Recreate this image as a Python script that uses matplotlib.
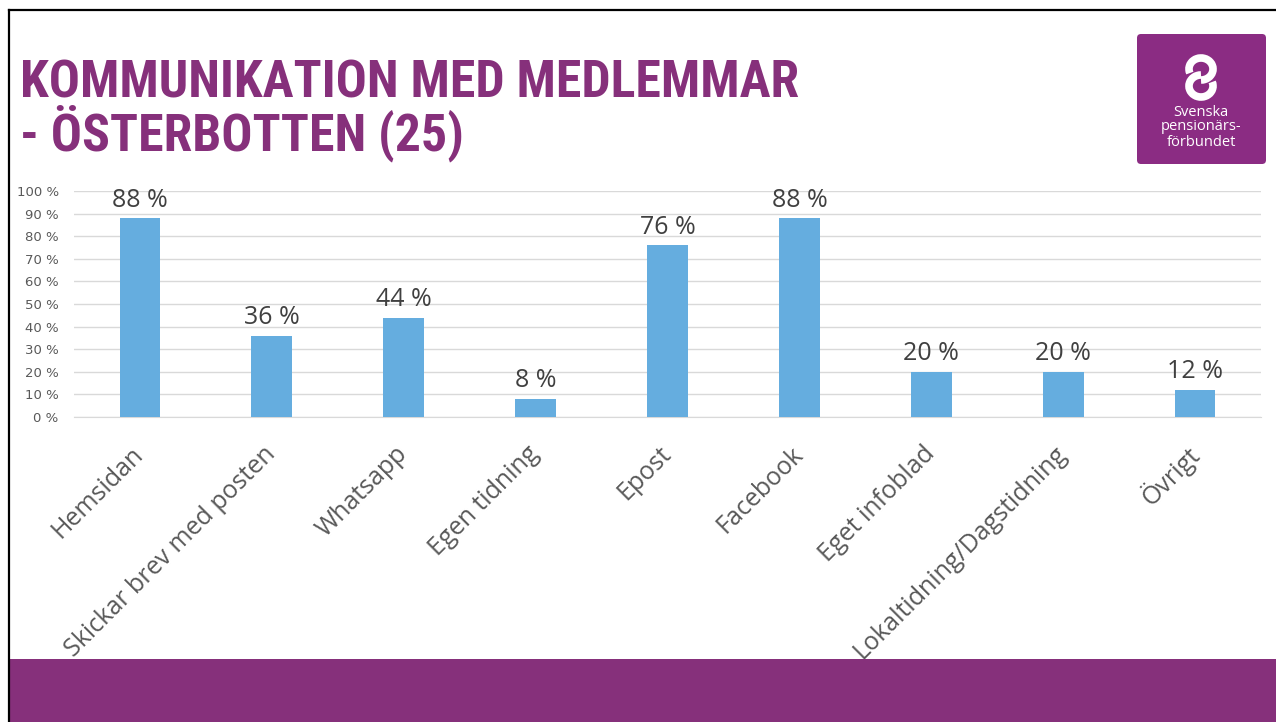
import matplotlib
matplotlib.use("Agg")
import matplotlib.pyplot as plt
from matplotlib.patches import FancyBboxPatch, Rectangle, Arc
from matplotlib.lines import Line2D
from matplotlib import font_manager
from matplotlib.font_manager import FontProperties

categories = ["Hemsidan", "Skickar brev med posten", "Whatsapp", "Egen tidning",
              "Epost", "Facebook", "Eget infoblad", "Lokaltidning/Dagstidning", "Övrigt"]
values = [88, 36, 44, 8, 76, 88, 20, 20, 12]
yticks = [0, 10, 20, 30, 40, 50, 60, 70, 80, 90, 100]
ytick_labels = [f"{v} %" for v in yticks]
title_lines = ["KOMMUNIKATION MED MEDLEMMAR", "- ÖSTERBOTTEN (25)"]

PURPLE = "#86307B"
BAR = "#65ADDF"
GRAY = "#595959"
body_font = "Open Sans"


def is_bold(w):
    if isinstance(w, str):
        return w.lower() in ("bold", "semibold", "demibold", "heavy", "black", "extra bold")
    return w >= 600


def pick_title_font():
    cands = []
    for f in font_manager.fontManager.ttflist:
        nm = f.name.lower()
        st = str(f.stretch).lower()
        fname = f.fname.lower()
        narrow = ("narrow" in nm or "condensed" in nm or "condensed" in st
                  or "narrow" in fname or "condensed" in fname)
        if narrow and is_bold(f.weight) and "italic" not in str(f.style).lower() \
                and "oblique" not in fname and "italic" not in fname:
            rank = 0 if "liberation" in nm else (1 if "roboto" in nm else 2)
            cands.append((rank, f.fname))
    if cands:
        cands.sort()
        return FontProperties(fname=cands[0][1])
    return FontProperties(family="Roboto", weight="bold")


W, H = 1276, 722
fig = plt.figure(figsize=(W / 100, H / 100), dpi=100)


def fx(px):
    return px / W


def fy(py):
    return 1 - py / H


# slide border (top & left)
fig.add_artist(Line2D([fx(9), 1], [fy(10), fy(10)], color="black", lw=1.6, transform=fig.transFigure))
fig.add_artist(Line2D([fx(9), fx(9)], [fy(10), 0], color="black", lw=1.6, transform=fig.transFigure))

# bottom band
fig.add_artist(Rectangle((fx(10), 0), 1 - fx(10), fy(659), transform=fig.transFigure,
                         facecolor=PURPLE, edgecolor="none"))

# title, fitted to the reference width
tfp = pick_title_font()
t1 = fig.text(fx(20), fy(97), title_lines[0], color=PURPLE, fontproperties=tfp,
              fontsize=37, va="baseline", ha="left")
t2 = fig.text(fx(20), fy(150), title_lines[1], color=PURPLE, fontproperties=tfp,
              fontsize=37, va="baseline", ha="left")
fig.canvas.draw()
w1 = t1.get_window_extent(fig.canvas.get_renderer()).width
size = min(37 * 777 / w1, 40)
t1.set_fontsize(size)
t2.set_fontsize(size)

# logo
lax = fig.add_axes([fx(1137), fy(164), fx(1266) - fx(1137), fy(34) - fy(164)], zorder=5)
lax.set_xlim(1137, 1266)
lax.set_ylim(164, 34)
lax.axis("off")
lax.add_patch(FancyBboxPatch((1137, 34), 129, 130, boxstyle="round,pad=0,rounding_size=4",
                             facecolor="#8B2C83", edgecolor="none"))
lax.add_patch(Arc((1201, 69), 24, 22, theta1=-200, theta2=90, color="white", lw=5.5))
lax.add_patch(Arc((1201, 86), 24, 22, theta1=-20, theta2=270, color="white", lw=5.5))
for i, t in enumerate(["Svenska", "pensionärs-", "förbundet"]):
    lax.text(1201, 112 + 15 * i, t, color="white", fontsize=10.5, family=body_font,
             ha="center", va="center")

# chart
ax = fig.add_axes([fx(74), fy(417), fx(1261) - fx(74), fy(191) - fy(417)])
x = list(range(len(categories)))
ax.bar(x, values, width=0.31, color=BAR, zorder=3)
ax.set_xlim(-0.5, len(categories) - 0.5)
ax.set_ylim(0, 100)
ax.set_yticks(yticks)
ax.set_yticklabels(ytick_labels, fontsize=9.5, color=GRAY, family="DejaVu Sans")
ax.grid(axis="y", color="#D9D9D9", lw=1, zorder=0)
for s in ax.spines.values():
    s.set_visible(False)
ax.spines["bottom"].set_visible(True)
ax.spines["bottom"].set_color("#D9D9D9")
ax.tick_params(axis="both", length=0)
ax.tick_params(axis="y", pad=11)
ax.set_xticks(x)
ax.set_xticklabels(categories, rotation=45, ha="right", va="center", rotation_mode="anchor",
                   fontsize=18, color=GRAY, family=body_font)
ax.tick_params(axis="x", pad=24)
for xi, v in zip(x, values):
    ax.annotate(f"{v} %", (xi, v), xytext=(0, 4), textcoords="offset points",
                ha="center", va="bottom", fontsize=18, color="#404040", family=body_font)

fig.savefig("out.png", dpi=100)
